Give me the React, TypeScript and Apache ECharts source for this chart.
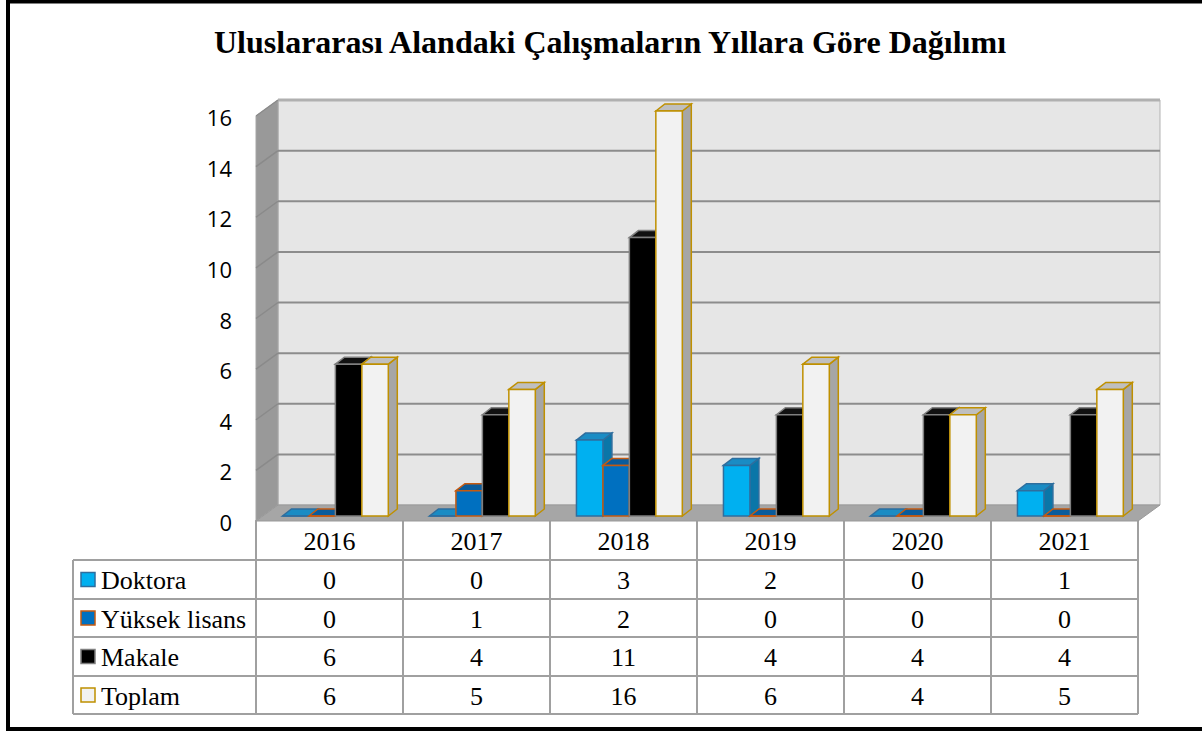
import React, { useEffect, useRef } from "react";
import * as echarts from "echarts";

const titleText = "Uluslararası Alandaki Çalışmaların Yıllara Göre Dağılımı";
const years = ["2016", "2017", "2018", "2019", "2020", "2021"];
const seriesNames = ["Doktora", "Yüksek lisans", "Makale", "Toplam"];
const doktora = [0, 0, 3, 2, 0, 1];
const yuksekLisans = [0, 1, 2, 0, 0, 0];
const makale = [6, 4, 11, 4, 4, 4];
const toplam = [6, 5, 16, 6, 4, 5];
const yTicks = [0, 2, 4, 6, 8, 10, 12, 14, 16];

const seriesValues = [doktora, yuksekLisans, makale, toplam];

const barStyles = [
  { front: "#00B0F0", side: "#0A76A8", top: "#1A8CC4", stroke: "#2E6E9E" },
  { front: "#0070C0", side: "#004E86", top: "#0A5C9C", stroke: "#C55A11" },
  { front: "#000000", side: "#000000", top: "#111111", stroke: "#7F7F7F" },
  { front: "#F2F2F2", side: "#A6A6A6", top: "#BFBFBF", stroke: "#BF9000" },
];

const GRID = { left: 256, top: 111, width: 882, height: 405 };
const TABLE = {
  labelLeft: 73,
  headerTop: 520,
  rowLines: [560, 599, 637, 676, 714],
};
const SERIF = '"Liberation Serif", "Times New Roman", serif';

export default function App() {
  const ref = useRef<HTMLDivElement>(null);

  useEffect(() => {
    if (!ref.current) return;
    const chart = echarts.init(ref.current, undefined, { renderer: "svg" });

    const yMax = yTicks[yTicks.length - 1];
    const colW = GRID.width / years.length;
    const gridRight = GRID.left + GRID.width;

    const wallSeries: any = {
      type: "custom",
      name: "walls",
      silent: true,
      data: [[0, 0]],
      z: 1,
      renderItem: (params: any, api: any) => {
        const cs = params.coordSys;
        const left = cs.x;
        const right = cs.x + cs.width;
        const F = (v: number) => api.coord([0, v])[1];
        const fdy = 5, bdx = 22, bdy = -11;
        const yTop = F(yMax);
        const y0 = F(0);
        const children: any[] = [
          {
            type: "rect",
            shape: { x: left + bdx, y: yTop + bdy, width: cs.width, height: y0 - yTop },
            style: { fill: "#E6E6E6", stroke: "#B3B3B3", lineWidth: 1 },
          },
          {
            type: "polygon",
            shape: {
              points: [
                [left, yTop + fdy],
                [left + bdx, yTop + bdy],
                [left + bdx, y0 + bdy],
                [left, y0 + fdy],
              ],
            },
            style: { fill: "#999999", stroke: "#A6A6A6", lineWidth: 1 },
          },
          {
            type: "polygon",
            shape: {
              points: [
                [left, y0 + fdy],
                [left + bdx, y0 + bdy],
                [right + bdx, y0 + bdy],
                [right, y0 + fdy],
              ],
            },
            style: { fill: "#A6A6A6", stroke: "#999999", lineWidth: 1 },
          },
        ];
        yTicks.forEach((v) => {
          if (v === 0) return;
          const y = F(v);
          children.push({
            type: "line",
            shape: { x1: left + bdx, y1: y + bdy, x2: right + bdx, y2: y + bdy },
            style: { stroke: v === yMax ? "#B0B0B0" : "#8C8C8C", lineWidth: v === yMax ? 3 : 2 },
          });
          children.push({
            type: "line",
            shape: { x1: left, y1: y + fdy, x2: left + bdx, y2: y + bdy },
            style: { stroke: "#8A8A8A", lineWidth: 1.5 },
          });
        });
        return { type: "group", children };
      },
    };

    const barSeries: any[] = seriesNames.map((name, sIdx) => ({
      type: "custom",
      name,
      z: 2,
      data: seriesValues[sIdx].map((v, i) => [i, v]),
      renderItem: (params: any, api: any) => {
        const ci = api.value(0);
        const v = api.value(1);
        const [cx, y] = api.coord([ci, v]);
        const y0 = api.coord([ci, 0])[1];
        const bandW = api.size([1, 0])[0];
        const bw = bandW * 0.18;
        const x0 = cx - bandW * 0.32 + sIdx * bw;
        const dx = 9, dy = -7;
        const st = barStyles[sIdx];
        return {
          type: "group",
          children: [
            {
              type: "polygon",
              shape: { points: [[x0 + bw, y], [x0 + bw + dx, y + dy], [x0 + bw + dx, y0 + dy], [x0 + bw, y0]] },
              style: { fill: st.side, stroke: st.stroke, lineWidth: 1.5 },
            },
            {
              type: "polygon",
              shape: { points: [[x0, y], [x0 + dx, y + dy], [x0 + bw + dx, y + dy], [x0 + bw, y]] },
              style: { fill: st.top, stroke: st.stroke, lineWidth: 1.5 },
            },
            {
              type: "rect",
              shape: { x: x0, y, width: bw, height: y0 - y },
              style: { fill: st.front, stroke: st.stroke, lineWidth: 1.5 },
            },
          ],
        };
      },
    }));

    // Data table built from arrays
    const graphics: any[] = [];
    const lineStyle = { stroke: "#A0A0A0", lineWidth: 2 };
    const tableBottom = TABLE.rowLines[TABLE.rowLines.length - 1];
    for (let i = 0; i <= years.length; i++) {
      const x = GRID.left + i * colW;
      graphics.push({ type: "line", shape: { x1: x, y1: TABLE.headerTop, x2: x, y2: tableBottom }, style: lineStyle });
    }
    graphics.push({
      type: "line",
      shape: { x1: TABLE.labelLeft, y1: TABLE.rowLines[0], x2: TABLE.labelLeft, y2: tableBottom },
      style: lineStyle,
    });
    TABLE.rowLines.forEach((y) => {
      graphics.push({ type: "line", shape: { x1: TABLE.labelLeft, y1: y, x2: gridRight, y2: y }, style: lineStyle });
    });
    const textStyle = (text: string, x: number, y: number, align: string) => ({
      type: "text",
      x,
      y,
      style: {
        text,
        font: `26px ${SERIF}`,
        fill: "#000",
        align,
        verticalAlign: "middle",
        textAlign: align,
        textVerticalAlign: "middle",
      },
    });
    years.forEach((yr, i) => {
      graphics.push(textStyle(yr, GRID.left + (i + 0.5) * colW, (TABLE.headerTop + TABLE.rowLines[0]) / 2 + 1, "center"));
    });
    seriesNames.forEach((name, r) => {
      const yc = (TABLE.rowLines[r] + TABLE.rowLines[r + 1]) / 2;
      const st = barStyles[r];
      graphics.push({
        type: "rect",
        shape: { x: 81, y: yc - 7, width: 14, height: 14 },
        style: { fill: st.front, stroke: st.stroke, lineWidth: 1.5 },
      });
      graphics.push(textStyle(name, 101, yc + 1, "left"));
      seriesValues[r].forEach((v, i) => {
        graphics.push(textStyle(String(v), GRID.left + (i + 0.5) * colW, yc + 1, "center"));
      });
    });
    graphics.push({
      type: "text",
      x: 610,
      y: 42,
      style: {
        text: titleText,
        font: `bold 32px ${SERIF}`,
        fill: "#000",
        align: "center",
        verticalAlign: "middle",
        textAlign: "center",
        textVerticalAlign: "middle",
      },
    });
    graphics.push({
      type: "rect",
      shape: { x: 8, y: 1.5, width: 1400, height: 727.5 },
      style: { fill: "none", stroke: "#000", lineWidth: 4 },
    });

    chart.setOption({
      animation: false,
      backgroundColor: "#ffffff",
      grid: { left: GRID.left, top: GRID.top, width: GRID.width, height: GRID.height },
      xAxis: {
        type: "category",
        data: years,
        axisLine: { show: false },
        axisTick: { show: false },
        axisLabel: { show: false },
      },
      yAxis: {
        type: "value",
        min: 0,
        max: yMax,
        interval: 2,
        axisLine: { show: false },
        axisTick: { show: false },
        splitLine: { show: false },
        axisLabel: {
          color: "#000",
          fontSize: 22,
          fontFamily: '"Open Sans", sans-serif',
          margin: 24,
          verticalAlign: "top",
          lineHeight: 12,
        },
      },
      series: [wallSeries, ...barSeries],
      graphic: graphics,
    });

    return () => chart.dispose();
  }, []);

  return (
    <div
      ref={ref}
      style={{ position: "absolute", left: 0, top: 0, width: 1202, height: 731, background: "#fff" }}
    />
  );
}
